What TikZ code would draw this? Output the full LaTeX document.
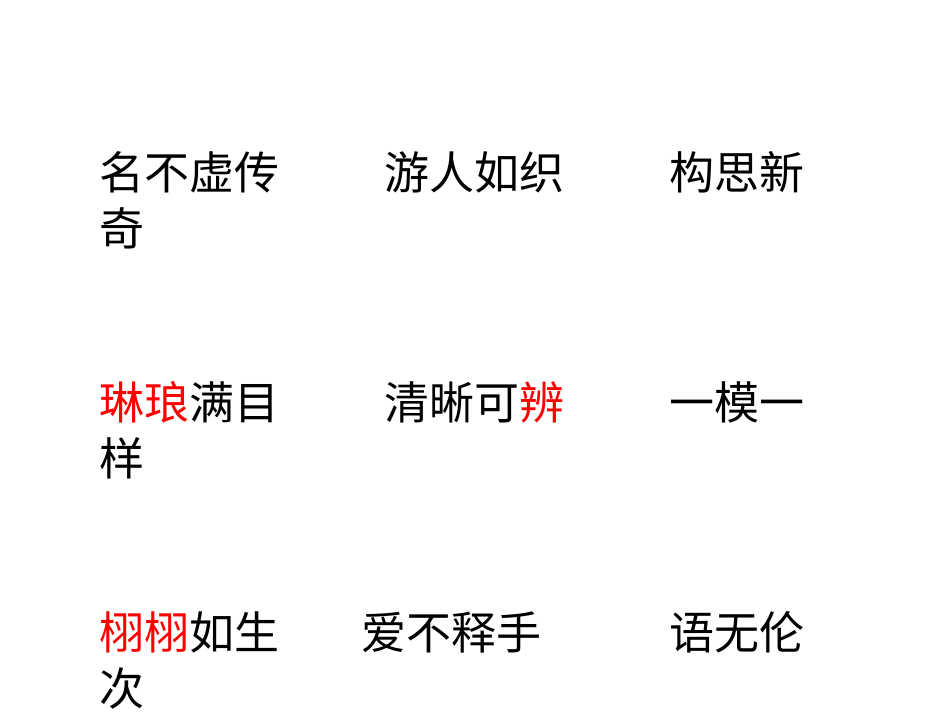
\documentclass[tikz,border=0pt]{standalone}
\usepackage{fontspec}
\newfontfamily\cjk{Noto Sans CJK SC}
\definecolor{hl}{RGB}{255,0,0}
\begin{document}
\begin{tikzpicture}[x=1pt,y=1pt,
  word/.style={anchor=west,inner sep=0pt,font=\cjk\fontsize{45}{45}\selectfont}]
\useasboundingbox[fill=white] (0,0) rectangle (950,713);
\node[word] (a1) at (99,713-172) {名不虚传};
\node[word] (a2) at (99,713-228) {奇};
\node[word] (b1) at (384,713-172) {游人如织};
\node[word] (c1) at (669,713-172) {构思新};
\node[word] (d1) at (99,713-402) {\textcolor{hl}{琳琅}满目};
\node[word] (d2) at (99,713-458) {样};
\node[word] (e1) at (384,713-402) {清晰可\textcolor{hl}{辨}};
\node[word] (f1) at (669,713-402) {一模一};
\node[word] (g1) at (99,713-632) {\textcolor{hl}{栩栩}如生};
\node[word] (g2) at (99,713-688) {次};
\node[word] (h1) at (361,713-632) {爱不释手};
\node[word] (i1) at (669,713-632) {语无伦};
\end{tikzpicture}
\end{document}
